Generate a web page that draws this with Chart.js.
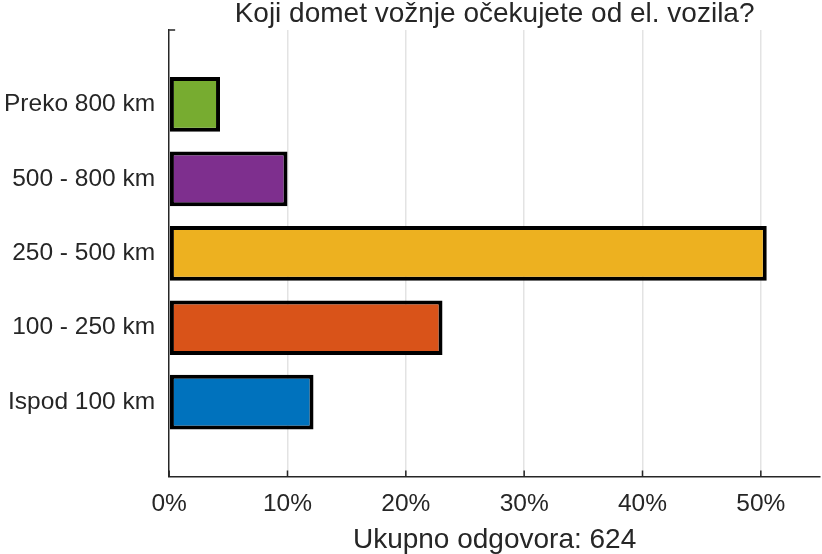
<!DOCTYPE html>
<html>
<head>
<meta charset="utf-8">
<script src="https://cdn.jsdelivr.net/npm/chart.js@4/dist/chart.umd.min.js"></script>
<style>
    body { margin: 0; background: #fff; }
    #wrap { width: 822px; height: 554px; }
</style>
</head>
<body>
<div id="wrap"><canvas id="myChart"></canvas></div>
<script>
// ranges, listed bottom to top as in the picture
const categories = ['Ispod 100 km', '100 - 250 km', '250 - 500 km', '500 - 800 km', 'Preko 800 km'];
const shares = [12.2, 23.1, 50.5, 10.0, 4.3];   // percent of answers
const barColors = ['#0072BD', '#D95319', '#EDB120', '#7E2F8E', '#77AC30'];
const xTicks = [0, 10, 20, 30, 40, 50];
const totalAnswers = 624;

const textColor = '#262626';
Chart.defaults.font.family = '"Liberation Sans", Arial, sans-serif';
Chart.defaults.color = textColor;

// empty slot below and above, so the bars sit one step in from the frame
const labels = [''].concat(categories, ['']);
const values = [null].concat(shares, [null]);
const colors = ['#fff'].concat(barColors, ['#fff']);

// MATLAB style ticks pointing into the plot
const innerTicks = {
    id: 'innerTicks',
    afterDatasetsDraw(chart) {
        const { ctx, chartArea, scales } = chart;
        ctx.save();
        ctx.strokeStyle = textColor;
        ctx.lineWidth = 1.5;
        ctx.beginPath();
        xTicks.forEach(function (v) {
            const px = scales.x.getPixelForValue(v);
            ctx.moveTo(px, chartArea.bottom);
            ctx.lineTo(px, chartArea.bottom - 6);
        });
        ctx.moveTo(chartArea.left, chartArea.top);
        ctx.lineTo(chartArea.left + 6, chartArea.top);
        ctx.stroke();
        ctx.restore();
    }
};

const config = {
    type: 'bar',
    data: {
        labels: labels,
        datasets: [{
            data: values,
            backgroundColor: colors,
            borderColor: '#000',
            borderWidth: 4,
            borderSkipped: false,
            barPercentage: 0.735,
            categoryPercentage: 1
        }]
    },
    options: {
        indexAxis: 'y',
        responsive: true,
        maintainAspectRatio: false,
        animation: false,
        layout: {
            padding: { left: 0, right: 2, top: 0, bottom: 0 }
        },
        plugins: {
            legend: { display: false },
            tooltip: { enabled: false },
            title: {
                display: true,
                text: 'Koji domet vožnje očekujete od el. vozila?',
                fullSize: false,
                color: textColor,
                font: { size: 28, weight: 'normal', lineHeight: 1 },
                padding: { top: 0, bottom: 2 }
            }
        },
        scales: {
            x: {
                type: 'linear',
                min: 0,
                max: 55,
                afterBuildTicks: function (scale) {
                    scale.ticks = xTicks.map(function (v) { return { value: v }; });
                },
                afterFit: function (scale) {
                    scale.height -= 10;
                },
                ticks: {
                    font: { size: 24.5 },
                    color: textColor,
                    padding: 13,
                    callback: function (v) { return v + '%'; }
                },
                grid: {
                    color: function (c) { return c.tick && c.tick.value === 0 ? 'rgba(0,0,0,0)' : '#e3e3e3'; },
                    lineWidth: 1.5,
                    drawTicks: false
                },
                border: { display: true, color: textColor, width: 1.5 },
                title: {
                    display: true,
                    text: 'Ukupno odgovora: ' + totalAnswers,
                    color: textColor,
                    font: { size: 28, lineHeight: 1 },
                    padding: { top: 4, bottom: 0 }
                }
            },
            y: {
                type: 'category',
                reverse: true,
                offset: false,
                afterFit: function (scale) {
                    scale.width -= 10;
                },
                ticks: {
                    font: { size: 24.5 },
                    color: textColor,
                    padding: 14,
                    autoSkip: false
                },
                grid: { display: false, drawTicks: false },
                border: { display: true, color: textColor, width: 1.5 }
            }
        }
    },
    plugins: [innerTicks]
};

const myChart = new Chart(document.getElementById('myChart'), config);
</script>
</body>
</html>
